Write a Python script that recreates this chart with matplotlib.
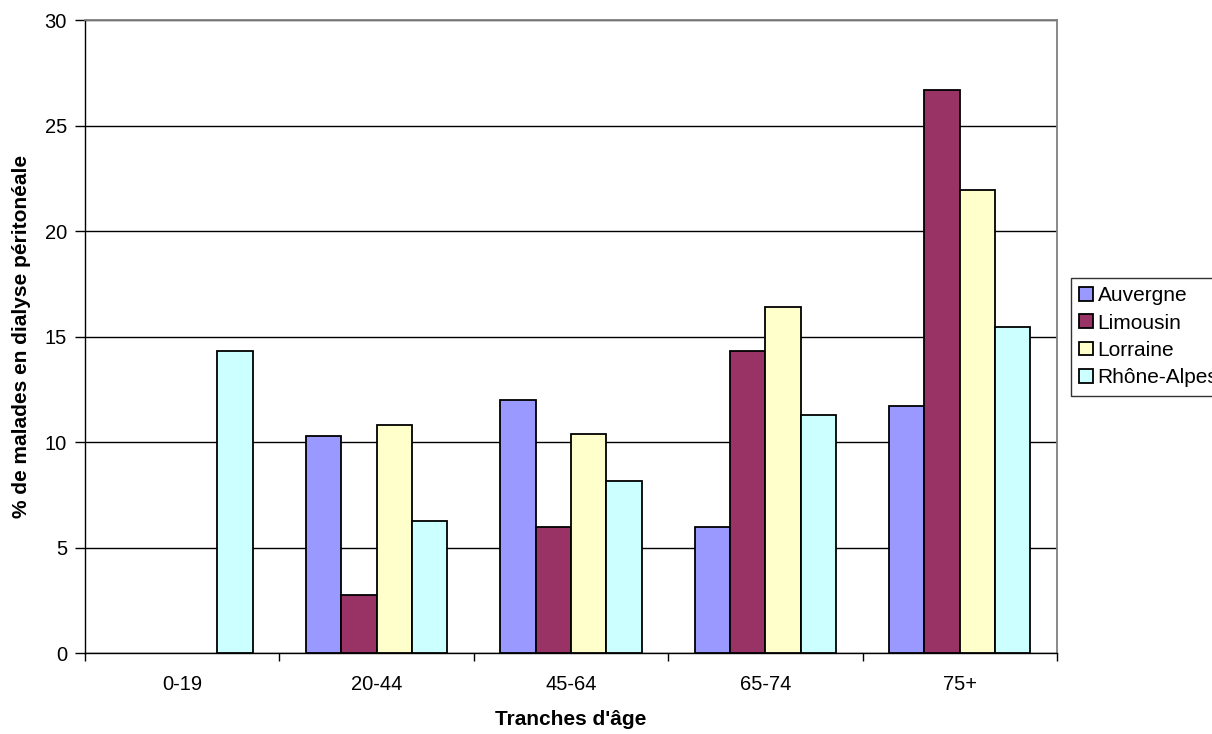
import matplotlib
matplotlib.use("Agg")
import matplotlib.pyplot as plt
from matplotlib.patches import Patch
import numpy as np

plt.rcParams["font.family"] = ["Liberation Sans", "DejaVu Sans"]

# data
age_groups = ["0-19", "20-44", "45-64", "65-74", "75+"]
regions = ["Auvergne", "Limousin", "Lorraine", "Rhône-Alpes"]
auvergne = [0, 10.3, 12.0, 6.0, 11.7]
limousin = [0, 2.75, 6.0, 14.3, 26.7]
lorraine = [0, 10.8, 10.4, 16.4, 21.95]
rhone_alpes = [14.3, 6.25, 8.15, 11.3, 15.45]
series = [auvergne, limousin, lorraine, rhone_alpes]
colors = ["#9999ff", "#993366", "#ffffcc", "#ccffff"]

fig = plt.figure(figsize=(12.12, 7.34), dpi=100)
ax = fig.add_axes([0.0701, 0.110, 0.802, 0.8627])

x = np.arange(len(age_groups)) + 0.5
width = 0.1817
for i, (vals, col) in enumerate(zip(series, colors)):
    bars = ax.bar(x + (i - 1.5) * width, vals, width, color=col,
                  edgecolor="black", linewidth=1.3, zorder=3)
    # zero-height bars get no outline, as in the original
    for b, v in zip(bars, vals):
        if v == 0:
            b.set_visible(False)

ax.set_xlim(0, len(age_groups))
ax.set_ylim(0, 30)
ax.set_yticks(np.arange(0, 31, 5))
ax.yaxis.grid(True, color="black", linewidth=1.0, zorder=0)

# category boundaries carry the tick marks, labels sit in the middle
ax.set_xticks(np.arange(len(age_groups) + 1))
ax.set_xticklabels([])
ax.set_xticks(x, minor=True)
ax.set_xticklabels(age_groups, minor=True)
ax.tick_params(axis="x", which="minor", length=0, pad=16, labelsize=14.5)
ax.tick_params(axis="x", which="major", length=6, width=1, direction="out")
ax.tick_params(axis="y", length=7, width=1, direction="out", labelsize=14.5, pad=6)

for side in ("top", "right"):
    ax.spines[side].set_color("#808080")
    ax.spines[side].set_linewidth(1.3)
for side in ("left", "bottom"):
    ax.spines[side].set_color("black")
    ax.spines[side].set_linewidth(1.0)

ax.set_xlabel("Tranches d'âge", fontsize=15, fontweight="bold", labelpad=11)
ax.set_ylabel("% de malades en dialyse péritonéale", fontsize=15,
              fontweight="bold", labelpad=10)

handles = [Patch(facecolor=c, edgecolor="black", linewidth=1.3, label=r)
           for c, r in zip(colors, regions)]
leg = fig.legend(handles=handles, loc="upper left",
                 bbox_to_anchor=(0.8837, 0.6213),
                 fontsize=15, frameon=True, fancybox=False, borderpad=0.4,
                 handlelength=0.63, handleheight=0.63, handletextpad=0.25,
                 labelspacing=0.4, borderaxespad=0)
leg.get_frame().set_edgecolor("black")
leg.get_frame().set_linewidth(1.0)

fig.savefig("out.png", dpi=100, facecolor="white")
